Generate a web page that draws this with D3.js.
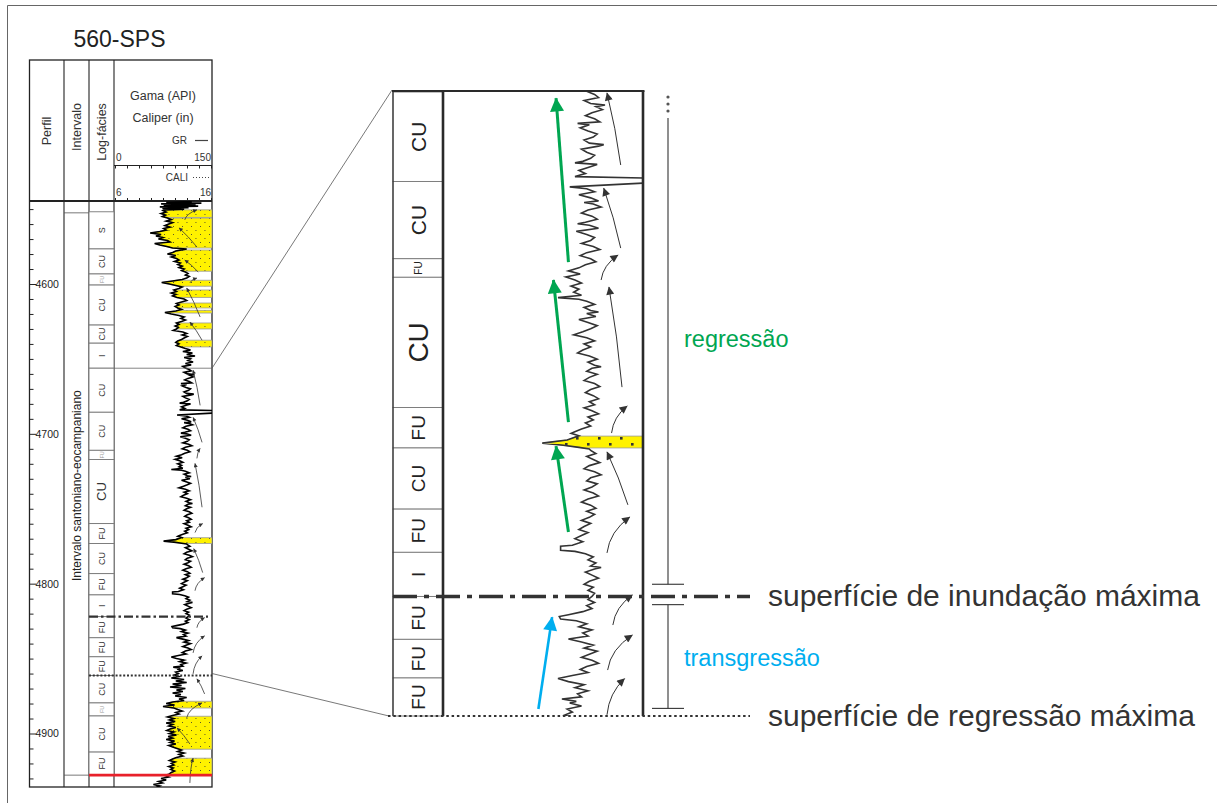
<!DOCTYPE html>
<html><head><meta charset="utf-8">
<script src="https://cdn.jsdelivr.net/npm/d3@7"></script>
<style>
body{margin:0;background:#fff;}
svg{display:block;font-family:"Liberation Sans",Arial,Helvetica,sans-serif;}
</style></head>
<body><svg id="c" width="1217" height="803"></svg>
<script>
// ---------------- data ----------------
const wellName = "560-SPS";
const headerCols = ["Perfil", "Intervalo", "Log-fácies"];
const logTitle = ["Gama (API)", "Caliper (in)"];
const grRange = [0, 150];
const caliRange = [6, 16];
const depthLabels = [4600, 4700, 4800, 4900];
const intervalName = "Intervalo santoniano-eocampaniano";
const intervalTopBase = [4552.5, 4927.8];

// log-facies units: tops (m) and labels, last entry closed by faciesBase
const faciesTops = [4551.8, 4576.6, 4593.3, 4600.7, 4627.4, 4639.5, 4656.2, 4685.6, 4711.0, 4717.1,
  4759.9, 4773.2, 4793.3, 4807.5, 4822.0, 4836.1, 4848.8, 4861.3, 4879.6, 4888.3, 4912.4];
const faciesBase = 4927.8;
const faciesLabels = ["S", "CU", "FU", "CU", "CU", "I", "CU", "CU", "FU", "CU",
  "FU", "CU", "FU", "I", "FU", "FU", "FU", "CU", "FU", "CU", "FU"];

// sandstone beds (top, base)
const sandBeds = [[4550.5, 4555.6], [4556, 4576], [4577.3, 4591.5], [4597.5, 4601.5], [4604, 4609],
  [4612.7, 4616], [4617.6, 4619.4], [4626, 4630], [4637.5, 4642], [4769.3, 4773.2],
  [4878.5, 4883], [4888.5, 4910.5], [4916.5, 4927.6]];

// gamma-ray log: [depth m, GR API]
const grLog = [
[4545,120],[4545.5,80],[4546,135],[4546.5,72],[4547,126],[4547.5,76],[4548,130],[4548.5,70],[4549,115],[4549.5,74],[4550,108],[4550.5,78],
[4551,75],[4552,80],[4553,72],[4554,79],[4555,74],[4556,82],
[4557,88],[4558,80],[4559,90],[4560,84],[4561,78],[4562,86],[4563,76],[4564,80],[4565,70],[4566,55],[4567,72],[4568,64],[4569,75],[4570,68],[4571,82],[4572,86],[4573,62],[4574,70],[4575,81],[4576,90],
[4576.6,112],[4577,108],
[4578,95],[4579,90],[4580,82],[4581,95],[4582,88],[4583,96],[4584,100],[4585,93],[4586,102],[4587,98],[4588,105],[4589,100],[4590,108],[4591,104],[4592,110],
[4593,114],[4594,110],[4595,116],[4596,112],[4597,105],
[4598,90],[4599,73],[4600,85],[4601,95],[4602,105],[4603,100],
[4604,92],[4605,96],[4606,88],[4607,95],[4608,90],[4609,97],
[4610,108],[4611,112],[4612,104],
[4613,96],[4614,100],[4615,94],[4616,98],
[4617,104],[4618,95],[4619,78],[4620,88],[4621,100],[4622,108],[4623,103],[4624,110],
[4625,104],[4626,96],[4627,100],[4628,94],[4629,99],[4630,96],
[4631,91],[4632,106],[4633,112],[4634,105],[4635,113],[4636,108],[4637,104],
[4638,98],[4639,95],[4640,100],[4641,96],[4642,103],
[4643,110],[4644,118],[4645,106],[4646,121],[4647,112],[4648,125],[4649,108],[4650,118],[4651,114],[4652,122],[4653,110],[4654,119],[4655,106],
[4656,110],[4657,116],[4658,119],[4659,108],[4660,113],[4660.5,124],[4661,117],[4662,122],[4663,114],[4664,109],
[4665,116],[4666,120],[4666.5,103],[4667,112],[4668,105],[4669,111],[4670,118],[4671,115],[4672,108],[4673,112],
[4673.5,123],[4674,119],[4675,106],[4676,110],[4677,116],[4678,113],[4679,107],[4679.5,101],[4680,118],[4681,111],
[4682,104],[4683,109],[4684,101],
[4684.5,155],[4686.1,155],[4687.4,97],
[4688,110],[4689,116],[4690,104],[4691,113],[4692,119],[4692.5,108],[4693,115],[4694,121],[4695,111],[4696,106],
[4697,114],[4698,118],[4699,109],[4699.5,103],[4700,112],[4701,119],[4702,102],[4703,110],[4704,116],[4705,113],
[4706,106],[4707,115],[4708,120],[4709,110],[4710,105],[4711,113],[4712,117],[4713,109],[4714,104],[4715,96],
[4716,105],[4717,94],
[4718,101],[4719,106],[4720,98],[4721,104],[4722,100],[4723,106],[4723.8,88],[4724.3,104],
[4725,110],[4726,116],[4727,108],[4728,113],[4728.5,119],[4729,110],[4730,117],[4731,104],[4732,111],[4733,118],
[4734,113],[4735,107],[4736,100],[4737,110],[4738,116],[4739,108],[4740,113],[4741,107],[4742,103],
[4743,112],[4744,118],[4745,111],[4746,116],[4746.5,121],[4747,114],[4748,110],[4749,118],[4750,112],[4751,108],
[4752,116],[4753,120],[4754,113],[4755,109],[4756,115],[4757,119],[4758,112],
[4759,116],[4760,108],[4761,114],[4762,119],[4763,111],[4764,115],[4765,109],[4766,113],[4767,106],[4768,100],
[4768.4,98],[4769.2,104],[4770.6,95],[4771.6,76],[4772.3,92],[4773,104],[4773.5,112],
[4774,113],[4775,117],[4776,110],[4777,115],[4778,120],[4779,112],[4780,108],[4781,116],[4782,121],[4783,113],
[4784,110],[4785,118],[4786,114],[4787,108],[4788,115],[4789,119],[4790,111],[4791,106],[4792,113],[4793,117],
[4794,110],[4795,116],[4796,112],[4797,106],[4798,113],[4799,108],[4800,104],[4801,111],[4802,106],[4803,101],
[4804,107],[4805.2,99],[4805.5,90],[4806.8,90],[4807.2,101],[4808,109],
[4809,115],[4810,111],[4811,117],[4812,113],[4812.5,121],[4813,116],[4814,109],[4815,114],[4816,119],[4817,112],
[4818,108],[4819,115],[4820,111],[4821,116],
[4822,114],[4823,111],[4824,116],[4825,110],[4826,114],[4827,107],[4828,96],[4828.6,89],[4829.4,90],[4830,102],
[4831,110],[4832,104],[4833,114],[4834,107],[4835,111],[4836,96],[4837,106],
[4838,115],[4839,108],[4840,118],[4841,112],[4842,106],[4843,114],[4844,119],[4845,110],[4846,105],[4847,111],
[4848,99],[4849,88],[4850,96],
[4851,108],[4852,101],[4853,111],[4854,103],[4855,106],[4855.7,91],[4856.5,102],[4857,97],[4858,106],[4859,95],
[4860,99],[4861,93],
[4862,100],[4863,88],[4864,108],[4865,95],[4866,112],[4867,90],[4868,104],[4869,86],[4870,110],[4871,96],
[4872,106],[4873,90],[4874,103],[4875,94],[4876,112],[4877,100],[4878,108],
[4879,90],[4880,80],[4881,93],[4882,75],[4883,92],[4884,98],
[4885,105],[4886,95],[4887,100],[4888,90],[4889,82],[4890,92],[4891,85],[4892,94],[4893,80],[4894,90],
[4895,84],[4896,95],[4897,86],[4898,81],[4899,92],[4900,85],[4901,96],[4902,83],[4903,90],[4904,80],
[4905,93],[4906,86],[4907,95],[4908,84],[4909,90],[4910,97],
[4911,104],[4912,98],[4913,108],[4914,100],[4915,106],[4916,96],
[4917,90],[4918,85],[4919,94],[4920,88],[4921,92],[4922,84],[4923,91],[4924,87],[4925,93],[4926,88],[4927,85],
[4928,78],[4929,84],[4930,72],[4931,80],[4932,68],[4933,74],[4934,60],[4935,70],[4936,64]
];

// interpretation
const zoomWindow = [4656.2, 4861.3];
const surfaceMFS = 4822.0;   // máxima inundação
const surfaceMRS = 4861.3;   // máxima regressão
const baseSurface = 4927.8;
const surfaceNames = ["superfície de inundação máxima", "superfície de regressão máxima"];
const tracts = [
  {name: "regressão", top: 4656.2, base: 4818.0},
  {name: "transgressão", top: 4824.7, base: 4858.8}
];

// small trend arrows: [depthFrom, grFrom, depthTo, grTo]
const arrowsLog = [
[4557.2,109,4550.5,128],[4575.3,128,4562.5,100],[4592,130,4584,109],[4599.3,117,4596,128],
[4622,133,4602.7,112],[4637.5,136,4625.4,117],[4681,133,4657.5,122],[4705.7,136,4689,122],
[4716.4,128,4709.7,133],[4749,136,4719.7,125],[4765.9,125,4759.9,137],[4792.6,137,4776.6,123],
[4804.7,125,4796,140],[4829.4,128,4822.7,140],[4846.2,122,4834.8,140],[4860.2,122,4848.2,136],
[4873.6,140,4863.5,128],[4889.6,112,4879.6,136],[4907,117,4896.3,97],[4933,117,4916.4,122]
];
const arrowsZoom = [
[4680.2,136,4656.5,125.5],[4707.5,136,4687.8,123],[4718,121,4709.8,134],
[4753.2,137,4720.3,127],[4768.3,129,4759.4,141],[4791.9,141.5,4774.5,125.5],
[4807.7,125.5,4795.9,143],[4831.4,130,4821.5,145],[4846.2,126,4834.7,145],
[4860.9,125.5,4849,139]
];
const regressiveArrows = [[4712.1,96,4658.2,86.5],[4764.7,96,4718,84.5],[4800.8,96,4772.6,86.5]];
const transgressiveArrows = [[4859,73,4828.8,83.5]];

// ---------------- drawing ----------------
const svg = d3.select("#c");
const INK = "#222", GREEN = "#00a651", BLUE = "#00aeef", YELLOW = "#fff200";

const colX = [29.5, 64, 89, 114, 212];
const headTop = 60, headBot = 201, bodyBot = 787;

const yL = d3.scaleLinear().domain([4600, 4900]).range([284, 733.5]);
const xL = d3.scaleLinear().domain(grRange).range([115, 211]);
const xCal = d3.scaleLinear().domain(caliRange).range([115, 211]);
const yB = d3.scaleLinear().domain(zoomWindow).range([92, 716]);
const xB = d3.scaleLinear().domain(grRange).range([443, 639]);
const bigFac = [393, 443];
const bigRight = 643;

const defs = svg.append("defs");
function sandPattern(id, w, h, dots, r) {
  const p = defs.append("pattern").attr("id", id).attr("patternUnits", "userSpaceOnUse")
    .attr("width", w).attr("height", h);
  p.append("rect").attr("width", w).attr("height", h).attr("fill", YELLOW);
  dots.forEach(([cx, cy]) => p.append("rect").attr("x", cx).attr("y", cy)
    .attr("width", r).attr("height", r).attr("fill", "#333"));
}
sandPattern("sandS", 9, 8, [[2, 2], [6.5, 6]], 0.9);
sandPattern("sandB", 22, 14, [[4, 3], [15, 9]], 2.6);

function marker(id, color, len, wid) {
  defs.append("marker").attr("id", id).attr("viewBox", "0 0 10 10")
    .attr("refX", 9.5).attr("refY", 5).attr("markerUnits", "userSpaceOnUse")
    .attr("markerWidth", len).attr("markerHeight", wid).attr("orient", "auto")
    .append("path").attr("d", "M0,0 L10,5 L0,10 Z").attr("fill", color);
}
marker("ahS", "#333", 5, 4);
marker("ahB", "#333", 10, 8);
marker("ahG", GREEN, 15, 14);
marker("ahC", BLUE, 15, 14);

defs.append("clipPath").attr("id", "clipL").append("rect")
  .attr("x", colX[3]).attr("y", headBot).attr("width", colX[4] - colX[3]).attr("height", bodyBot - headBot);
defs.append("clipPath").attr("id", "clipB").append("rect")
  .attr("x", bigFac[1]).attr("y", yB(zoomWindow[0])).attr("width", bigRight - bigFac[1])
  .attr("height", yB(zoomWindow[1]) - yB(zoomWindow[0]));

// page frame
svg.append("path").attr("d", "M7.5,803 V5.5 H1217").attr("fill", "none").attr("stroke", "#666").attr("stroke-width", 1);

// title
svg.append("text").attr("x", 119.5).attr("y", 47).attr("text-anchor", "middle")
  .attr("font-size", 23).attr("fill", "#222").text(wellName);

// ----- left track frame -----
const frame = svg.append("g").attr("stroke", INK).attr("fill", "none");
frame.append("rect").attr("x", colX[0]).attr("y", headTop).attr("width", colX[4] - colX[0])
  .attr("height", bodyBot - headTop).attr("stroke-width", 1.3);
colX.slice(1, 4).forEach(x => frame.append("line").attr("x1", x).attr("x2", x)
  .attr("y1", headTop).attr("y2", bodyBot).attr("stroke-width", 1.1));
frame.append("line").attr("x1", colX[0]).attr("x2", colX[4]).attr("y1", headBot).attr("y2", headBot).attr("stroke-width", 2);
frame.append("line").attr("x1", colX[3]).attr("x2", colX[4]).attr("y1", 165.5).attr("y2", 165.5).attr("stroke-width", 1);

// header column titles
headerCols.forEach((t, i) => {
  const cx = (colX[i] + colX[i + 1]) / 2 + 4.5;
  svg.append("text").attr("transform", `translate(${cx},${[131, 127, 132][i]}) rotate(-90)`)
    .attr("text-anchor", "middle").attr("font-size", 12.5).attr("fill", "#333").text(t);
});
const gcx = (colX[3] + colX[4]) / 2;
logTitle.forEach((t, i) => svg.append("text").attr("x", gcx).attr("y", 100 + i * 22)
  .attr("text-anchor", "middle").attr("font-size", 12.5).attr("fill", "#333").text(t));
svg.append("text").attr("x", 187).attr("y", 144).attr("text-anchor", "end").attr("font-size", 10).attr("fill", "#333").text("GR");
svg.append("line").attr("x1", 195).attr("x2", 208).attr("y1", 140.5).attr("y2", 140.5).attr("stroke", "#444").attr("stroke-width", 1.2);
svg.append("text").attr("x", 188).attr("y", 181).attr("text-anchor", "end").attr("font-size", 10).attr("fill", "#333").text("CALI");
svg.append("line").attr("x1", 193).attr("x2", 209).attr("y1", 177.5).attr("y2", 177.5).attr("stroke", "#444")
  .attr("stroke-width", 1).attr("stroke-dasharray", "1,2");

// GR and caliper scales
const grAx = svg.append("g").attr("transform", "translate(0,165.5)")
  .call(d3.axisBottom(xL).tickValues(d3.range(0, 151, 18.75)).tickSize(3).tickFormat(""));
grAx.select(".domain").remove();
grAx.selectAll("line").attr("stroke", INK);
svg.append("text").attr("x", xL(grRange[0]) + 1).attr("y", 161).attr("font-size", 10).attr("fill", "#333").text(grRange[0]);
svg.append("text").attr("x", xL(grRange[1])).attr("y", 161).attr("text-anchor", "end").attr("font-size", 10).attr("fill", "#333").text(grRange[1]);
const caAx = svg.append("g").attr("transform", `translate(0,${headBot})`)
  .call(d3.axisTop(xCal).tickValues(d3.range(6, 16.1, 1.25)).tickSize(3).tickFormat(""));
caAx.select(".domain").remove();
caAx.selectAll("line").attr("stroke", INK);
svg.append("text").attr("x", xCal(caliRange[0]) + 1).attr("y", 196).attr("font-size", 10).attr("fill", "#333").text(caliRange[0]);
svg.append("text").attr("x", xCal(caliRange[1])).attr("y", 196).attr("text-anchor", "end").attr("font-size", 10).attr("fill", "#333").text(caliRange[1]);

// depth axis
const dAx = svg.append("g").attr("transform", `translate(${colX[0]},0)`)
  .call(d3.axisRight(yL).tickValues(d3.range(4550, 4931, 10)).tickSize(4).tickPadding(2)
    .tickFormat(d => depthLabels.includes(d) ? d : ""));
dAx.select(".domain").remove();
dAx.selectAll("line").attr("stroke", INK);
dAx.selectAll(".tick").filter(d => depthLabels.includes(d)).select("line").attr("x2", 7);
dAx.selectAll("text").attr("font-size", 10.5).attr("fill", "#222").attr("font-family", "Liberation Sans, Arial, sans-serif");

// interval column
[intervalTopBase[0], intervalTopBase[1]].forEach(d => svg.append("line").attr("x1", colX[1]).attr("x2", colX[2])
  .attr("y1", yL(d)).attr("y2", yL(d)).attr("stroke", "#555").attr("stroke-width", 0.8));
svg.append("text").attr("transform", `translate(${(colX[1] + colX[2]) / 2 + 4.5},581) rotate(-90)`)
  .attr("font-size", 12).attr("fill", "#222").text(intervalName);

// log-facies units
const facies = faciesTops.map((t, i) => ({top: t, base: i + 1 < faciesTops.length ? faciesTops[i + 1] : faciesBase, label: faciesLabels[i]}));
function drawFacies(g, units, y, x0, x1, sizeFn, colorFn) {
  units.forEach(u => {
    const h = y(u.base) - y(u.top);
    g.append("rect").attr("x", x0).attr("y", y(u.top)).attr("width", x1 - x0).attr("height", h)
      .attr("fill", "#fff").attr("stroke", "#777").attr("stroke-width", 0.9);
    g.append("text").attr("transform", `translate(${(x0 + x1) / 2},${(y(u.top) + y(u.base)) / 2}) rotate(-90)`)
      .attr("text-anchor", "middle").attr("dominant-baseline", "central")
      .attr("font-size", sizeFn(h)).attr("fill", colorFn(h)).text(u.label);
  });
}
drawFacies(svg.append("g"), facies, yL, colX[2], colX[3],
  h => h > 55 ? 13 : (h < 14 ? 5.5 : 9), h => h < 14 ? "#999" : "#333");

// helpers for the log
const bis = d3.bisector(d => d[0]).left;
function grAt(d) {
  const i = Math.max(1, Math.min(grLog.length - 1, bis(grLog, d)));
  const a = grLog[i - 1], b = grLog[i];
  return a[1] + (b[1] - a[1]) * (d - a[0]) / (b[0] - a[0]);
}
function drawSand(g, bed, x, y, xr, fill) {
  const pts = [[bed[0], grAt(bed[0])], ...grLog.filter(p => p[0] > bed[0] && p[0] < bed[1]), [bed[1], grAt(bed[1])]];
  const poly = pts.map(p => [x(Math.min(p[1], 150)), y(p[0])]);
  poly.push([xr, y(bed[1])], [xr, y(bed[0])]);
  g.append("path").attr("d", "M" + poly.join("L") + "Z").attr("fill", fill)
    .attr("stroke", "#9a9a9a").attr("stroke-width", 0.8);
}
// curved: fining-upward arrows bend to the right, others are drawn with a slight bow
function drawArrow(g, a, x, y, marker, width, color, bend, curved) {
  const x0 = x(a[1]), y0 = y(a[0]), x1 = x(a[3]), y1 = y(a[2]);
  let c;
  if (curved && x1 > x0) c = [x0 + (x1 - x0) * 0.12, y0 + (y1 - y0) * 0.6];
  else {
    const mx = (x0 + x1) / 2, my = (y0 + y1) / 2, L = Math.hypot(x1 - x0, y1 - y0);
    c = [mx + bend * (y0 - y1) / L, my + bend * (x1 - x0) / L];
  }
  g.append("path").attr("d", `M${x0},${y0} Q${c[0]},${c[1]} ${x1},${y1}`)
    .attr("fill", "none").attr("stroke", color).attr("stroke-width", width)
    .attr("marker-end", `url(#${marker})`);
}

// ----- left GR track -----
const gL = svg.append("g").attr("clip-path", "url(#clipL)");
sandBeds.forEach(b => drawSand(gL, b, xL, yL, colX[4], "url(#sandS)"));
gL.append("path").datum(grLog).attr("d", d3.line().x(d => xL(d[1])).y(d => yL(d[0])))
  .attr("fill", "none").attr("stroke", "#000").attr("stroke-width", 1.6).attr("stroke-linejoin", "miter");
const arL = svg.append("g");
arrowsLog.forEach(a => drawArrow(arL, a, xL, yL, "ahS", 0.8, "#333", 1, true));

// zoom bracket in the left track and connectors
svg.append("line").attr("x1", colX[3]).attr("x2", colX[4]).attr("y1", yL(zoomWindow[0])).attr("y2", yL(zoomWindow[0]))
  .attr("stroke", "#666").attr("stroke-width", 0.8);
svg.append("line").attr("x1", colX[4]).attr("y1", yL(zoomWindow[0])).attr("x2", bigFac[0] - 1).attr("y2", yB(zoomWindow[0]) - 2)
  .attr("stroke", "#555").attr("stroke-width", 0.8);
svg.append("line").attr("x1", colX[4]).attr("y1", yL(zoomWindow[1]) - 2).attr("x2", bigFac[0] - 4).attr("y2", yB(zoomWindow[1]))
  .attr("stroke", "#555").attr("stroke-width", 0.8);

// surfaces in the left track
svg.append("line").attr("x1", colX[2]).attr("x2", 208).attr("y1", yL(surfaceMFS)).attr("y2", yL(surfaceMFS))
  .attr("stroke", "#333").attr("stroke-width", 2.4).attr("stroke-dasharray", "9,3,2.5,3");
svg.append("line").attr("x1", colX[2]).attr("x2", colX[4]).attr("y1", yL(surfaceMRS)).attr("y2", yL(surfaceMRS))
  .attr("stroke", "#333").attr("stroke-width", 2).attr("stroke-dasharray", "2,1.8");
svg.append("line").attr("x1", colX[2]).attr("x2", colX[4]).attr("y1", yL(baseSurface)).attr("y2", yL(baseSurface))
  .attr("stroke", "#e8202a").attr("stroke-width", 2.6);

// ----- enlarged section -----
const inZoom = facies.filter(u => u.top >= zoomWindow[0] - 0.01 && u.base <= zoomWindow[1] + 0.01);
drawFacies(svg.append("g"), inZoom, yB, bigFac[0], bigFac[1],
  h => h > 100 ? 28 : (h < 25 ? 10 : (h >= 70 ? 21 : 19)), h => "#222");

const gB = svg.append("g").attr("clip-path", "url(#clipB)");
sandBeds.filter(b => b[0] >= zoomWindow[0] && b[1] <= zoomWindow[1])
  .forEach(b => drawSand(gB, b, xB, yB, bigRight + 2, "url(#sandB)"));
gB.append("path").datum(grLog).attr("d", d3.line().x(d => xB(d[1])).y(d => yB(d[0])))
  .attr("fill", "none").attr("stroke", "#333").attr("stroke-width", 1.6);

const bf = svg.append("g").attr("stroke", "#2a2a2a").attr("fill", "none");
bf.append("line").attr("x1", bigFac[0] - 1).attr("x2", bigRight + 1.5).attr("y1", 91).attr("y2", 91).attr("stroke-width", 2);
bf.append("line").attr("x1", bigFac[0]).attr("x2", bigFac[0]).attr("y1", 91).attr("y2", yB(zoomWindow[1])).attr("stroke-width", 1.2);
bf.append("line").attr("x1", bigFac[1]).attr("x2", bigFac[1]).attr("y1", 91).attr("y2", yB(zoomWindow[1])).attr("stroke-width", 2.6);
bf.append("line").attr("x1", bigRight).attr("x2", bigRight).attr("y1", 91).attr("y2", yB(zoomWindow[1])).attr("stroke-width", 2.6);

const arB = svg.append("g");
arrowsZoom.forEach(a => drawArrow(arB, a, xB, yB, "ahB", 1, "#333", 2, true));
regressiveArrows.forEach(a => drawArrow(arB, a, xB, yB, "ahG", 3, GREEN, 0, false));
transgressiveArrows.forEach(a => drawArrow(arB, a, xB, yB, "ahC", 2.6, BLUE, 0, false));

// key surfaces across the enlarged section
svg.append("line").attr("x1", bigFac[0]).attr("x2", 750).attr("y1", yB(surfaceMFS)).attr("y2", yB(surfaceMFS))
  .attr("stroke", "#333").attr("stroke-width", 3.6).attr("stroke-dasharray", "24,7,5,7");
svg.append("line").attr("x1", 388).attr("x2", 750).attr("y1", yB(surfaceMRS)).attr("y2", yB(surfaceMRS))
  .attr("stroke", "#333").attr("stroke-width", 2.2).attr("stroke-dasharray", "2.5,2.8");
svg.append("text").attr("x", 768).attr("y", yB(surfaceMFS) + 9.5).attr("font-size", 30).attr("fill", "#333").text(surfaceNames[0]);
svg.append("text").attr("x", 768).attr("y", yB(surfaceMRS) + 9.5).attr("font-size", 30).attr("fill", "#333").text(surfaceNames[1]);

// systems tracts bars
const barX = 668;
const tb = svg.append("g").attr("stroke", "#333").attr("stroke-width", 1.1);
const rg = tracts[0], tg = tracts[1];
[0, 7, 14].forEach(o => svg.append("circle").attr("cx", barX).attr("cy", yB(rg.top) + 5 + o).attr("r", 1.6).attr("fill", "#555"));
tb.append("line").attr("x1", barX).attr("x2", barX).attr("y1", yB(rg.top) + 26).attr("y2", yB(rg.base));
tb.append("line").attr("x1", barX - 16).attr("x2", barX + 16).attr("y1", yB(rg.base)).attr("y2", yB(rg.base));
tb.append("line").attr("x1", barX).attr("x2", barX).attr("y1", yB(tg.top)).attr("y2", yB(tg.base));
[tg.top, tg.base].forEach(d => tb.append("line").attr("x1", barX - 16).attr("x2", barX + 16).attr("y1", yB(d)).attr("y2", yB(d)));
svg.append("text").attr("x", 684).attr("y", (yB(rg.top) + yB(rg.base)) / 2 + 9).attr("font-size", 23.5).attr("fill", GREEN).text(rg.name);
svg.append("text").attr("x", 684).attr("y", (yB(tg.top) + yB(tg.base)) / 2 + 9).attr("font-size", 23.5).attr("fill", BLUE).text(tg.name);
</script></body></html>
